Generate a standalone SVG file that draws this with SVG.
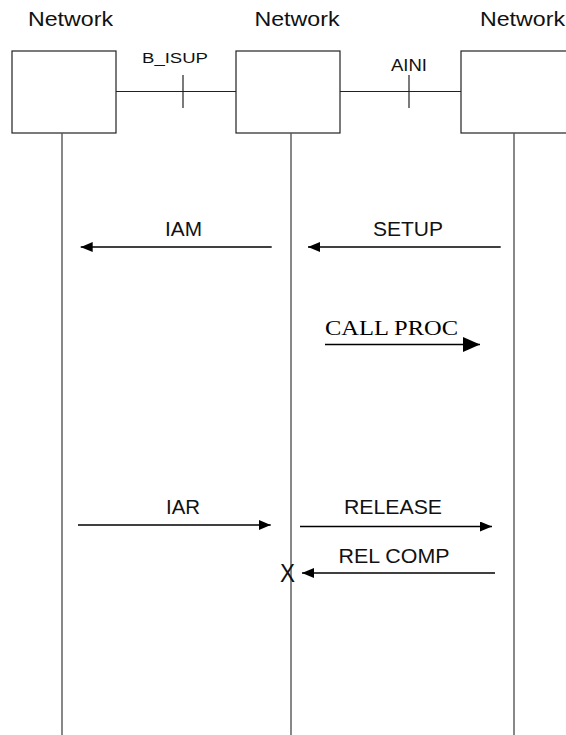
<svg xmlns="http://www.w3.org/2000/svg" width="566" height="735" viewBox="0 0 566 735">
<style>
.box{fill:#fff;stroke:#222;stroke-width:1.2}
.life{stroke:#555;stroke-width:1.4}
.link{stroke:#222;stroke-width:1.2}
.msg{stroke:#000;stroke-width:1.3;fill:none}
.t{font-family:"Liberation Sans",Arial,sans-serif;fill:#111;text-anchor:middle}
.ts{font-family:"Liberation Serif","Times New Roman",serif;fill:#000;text-anchor:middle}
</style>
<defs>
<marker id="ah" viewBox="0 0 12 10" refX="12" refY="5" markerWidth="12" markerHeight="10" markerUnits="userSpaceOnUse" orient="auto">
<path d="M0,0 L12,5 L0,10 Z" fill="#000"/>
</marker>
<marker id="ahb" viewBox="0 0 17 15" refX="17" refY="7.5" markerWidth="17" markerHeight="15" markerUnits="userSpaceOnUse" orient="auto">
<path d="M0,0 L17,7.5 L0,15 Z" fill="#000"/>
</marker>
</defs>
<rect width="566" height="735" fill="#fff"/>
<g id="node-network-1">
<text class="t" x="70.5" y="26" font-size="21" textLength="85" lengthAdjust="spacingAndGlyphs">Network</text>
<rect class="box" x="12" y="51" width="104" height="82"/>
<line class="life" x1="62" y1="133" x2="62" y2="735"/>
</g>
<g id="node-network-2">
<text class="t" x="297" y="26" font-size="21" textLength="85" lengthAdjust="spacingAndGlyphs">Network</text>
<rect class="box" x="236" y="51" width="104" height="82"/>
<line class="life" x1="291" y1="133" x2="291" y2="735"/>
</g>
<g id="node-network-3">
<text class="t" x="522.5" y="26" font-size="21" textLength="85" lengthAdjust="spacingAndGlyphs">Network</text>
<rect class="box" x="461" y="51" width="120" height="82"/>
<line class="life" x1="514" y1="133" x2="514" y2="735"/>
</g>
<g id="connectors">
<line class="link" x1="116" y1="91.5" x2="236" y2="91.5"/>
<line class="link" x1="183" y1="75" x2="183" y2="108"/>
<text class="t" x="175" y="62.5" font-size="15" textLength="66" lengthAdjust="spacingAndGlyphs">B_ISUP</text>
<line class="link" x1="340" y1="91.5" x2="461" y2="91.5"/>
<line class="link" x1="409" y1="75" x2="409" y2="108"/>
<text class="t" x="409" y="71" font-size="16" textLength="36" lengthAdjust="spacingAndGlyphs">AINI</text>

<line class="msg" x1="271.7" y1="247" x2="80.7" y2="247" marker-end="url(#ah)"/>
<text class="t" x="183.5" y="236" font-size="20" textLength="37" lengthAdjust="spacingAndGlyphs">IAM</text>
<line class="msg" x1="500.7" y1="247" x2="308" y2="247" marker-end="url(#ah)"/>
<text class="t" x="408" y="236" font-size="20" textLength="70" lengthAdjust="spacingAndGlyphs">SETUP</text>

<line class="msg" x1="325" y1="344.5" x2="480" y2="344.5" marker-end="url(#ahb)"/>
<text class="ts" x="391.5" y="335" font-size="20" textLength="133" lengthAdjust="spacingAndGlyphs">CALL PROC</text>

<line class="msg" x1="78" y1="525" x2="270.7" y2="525" marker-end="url(#ah)"/>
<text class="t" x="183" y="514" font-size="20" textLength="34" lengthAdjust="spacingAndGlyphs">IAR</text>
<line class="msg" x1="300" y1="526.5" x2="492" y2="526.5" marker-end="url(#ah)"/>
<text class="t" x="393" y="514" font-size="20" textLength="98" lengthAdjust="spacingAndGlyphs">RELEASE</text>
<line class="msg" x1="495" y1="573" x2="302" y2="573" marker-end="url(#ah)"/>
<text class="t" x="394" y="563" font-size="20" textLength="111" lengthAdjust="spacingAndGlyphs">REL COMP</text>
<text class="t" x="287.5" y="582" font-size="25" textLength="15" lengthAdjust="spacingAndGlyphs">X</text>
</g>
</svg>
